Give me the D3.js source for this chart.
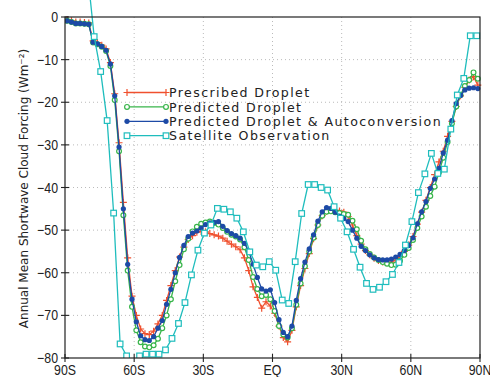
<!DOCTYPE html>
<html><head><meta charset="utf-8">
<script src="https://cdn.jsdelivr.net/npm/d3@7"></script>
<style>body{margin:0;background:#fff}svg{display:block}</style>
</head><body>
<div id="chart"></div>
<script>
// Model latitudes (96-point grid, ~1.875 deg)
const modelLat = d3.range(96).map(i => -89.0625 + 1.875 * i);
// Observation latitudes (64-point grid, 2.8125 deg)
const obsLat = d3.range(64).map(j => -88.59375 + 2.8125 * j);

const prescribed = [
 -0.6,-0.9,-1.2,-1.2,-1.3,-1.4,-5.6,-6.0,-6.6,-7.5,-10.7,-18.0,
 -29.5,-43.5,-56.5,-65.5,-70.0,-73.2,-74.3,-74.5,-73.7,-72.0,-70.0,-66.5,
 -63.0,-59.5,-56.3,-54.0,-52.2,-51.3,-50.5,-50.3,-50.4,-50.8,-51.1,-51.4,
 -51.9,-52.6,-53.3,-53.9,-54.6,-56.5,-59.5,-63.3,-65.8,-68.3,-66.8,-67.8,
 -69.5,-72.5,-75.2,-76.2,-73.5,-68.0,-63.0,-59.0,-55.5,-52.0,-48.8,-46.6,
 -45.6,-45.3,-45.3,-45.5,-45.8,-46.8,-48.8,-51.3,-53.3,-54.8,-55.8,-56.6,
 -57.1,-57.5,-57.6,-57.5,-57.0,-56.2,-55.0,-53.5,-51.5,-48.6,-45.8,-43.0,
 -40.0,-37.0,-34.0,-31.5,-28.0,-24.5,-21.0,-18.5,-16.5,-14.8,-14.0,-16.0
];
const predicted = [
 -0.9,-1.2,-1.5,-1.5,-1.6,-1.7,-6.0,-6.4,-7.0,-8.0,-11.5,-19.5,
 -31.5,-46.5,-59.5,-68.0,-73.5,-76.3,-77.3,-77.5,-77.0,-75.5,-73.0,-70.0,
 -66.2,-62.0,-58.2,-54.5,-52.0,-50.3,-49.2,-48.5,-48.2,-48.0,-48.3,-48.7,
 -49.5,-50.4,-51.1,-51.5,-52.2,-54.0,-57.0,-61.0,-63.8,-65.5,-65.2,-66.2,
 -69.0,-72.5,-74.5,-75.2,-73.0,-67.5,-62.5,-58.5,-55.0,-51.8,-48.8,-46.6,
 -45.7,-45.6,-45.8,-46.0,-46.2,-46.4,-47.8,-49.8,-52.5,-54.5,-55.6,-56.4,
 -57.0,-57.5,-57.9,-58.2,-58.1,-57.2,-55.8,-54.2,-52.3,-49.5,-46.8,-44.5,
 -42.0,-39.8,-36.5,-33.0,-29.3,-25.0,-21.0,-18.3,-16.2,-14.8,-13.0,-14.5
];
const predictedAuto = [
 -0.9,-1.2,-1.5,-1.5,-1.6,-1.7,-5.9,-6.3,-6.9,-7.8,-11.0,-18.5,
 -30.5,-45.0,-58.0,-66.2,-71.5,-74.8,-75.7,-75.9,-75.0,-73.0,-71.2,-67.4,
 -63.9,-60.0,-56.4,-53.6,-51.5,-50.7,-50.2,-49.5,-48.7,-48.3,-48.2,-48.0,
 -49.1,-50.1,-50.8,-51.3,-51.9,-53.1,-54.9,-58.0,-61.1,-63.8,-64.3,-64.0,
 -67.0,-71.0,-74.0,-75.0,-72.5,-66.5,-61.4,-57.5,-54.4,-51.1,-47.9,-45.7,
 -44.7,-44.9,-45.8,-46.7,-47.3,-48.0,-50.0,-51.9,-53.8,-54.8,-55.8,-56.5,
 -56.9,-57.0,-57.0,-56.8,-56.3,-55.7,-54.8,-53.6,-51.8,-48.5,-45.7,-43.3,
 -40.2,-38.0,-35.5,-31.9,-28.9,-24.3,-20.3,-18.4,-17.1,-16.7,-16.6,-16.8
];
const observation = [
 null,null,null,10.0,-4.6,-12.8,-24.3,-46.0,-76.7,-79.5,-81.5,-79.5,
 -79.1,-79.1,-79.1,-78.1,-75.4,-71.9,-67.0,-60.5,-54.7,-50.7,-48.8,-44.9,
 -45.1,-45.7,-47.2,-50.4,-55.1,-58.2,-58.6,-57.4,-59.4,-66.4,-67.2,-57.4,
 -46.1,-39.3,-39.3,-40.0,-40.6,-44.5,-47.2,-50.4,-54.5,-58.7,-62.5,-63.9,
 -63.4,-62.1,-60.4,-57.6,-53.5,-48.0,-41.2,-36.8,-32.0,-36.7,-35.7,-26.3,
 -18.3,-14.4,-4.4,-4.4
];

const seriesNames = ["Prescribed Droplet","Predicted Droplet","Predicted Droplet & Autoconversion","Satellite Observation"];
const xTickValues = [-90,-60,-30,0,30,60,90];
const xTickLabels = ["90S","60S","30S","EQ","30N","60N","90N"];
const yTickValues = [0,-10,-20,-30,-40,-50,-60,-70,-80];
const yTitle = "Annual Mean Shortwave Cloud Forcing (Wm\u207B\u00B2)";

const W = 490, H = 377;
const L = 65, R = 480, T = 17, B = 358;
const colors = ["#f0502e","#38b54a","#1d4aa6","#1fbdbd"];

const svg = d3.select("#chart").append("svg").attr("width", W).attr("height", H);
const x = d3.scaleLinear().domain([-90,90]).range([L,R]);
const y = d3.scaleLinear().domain([-80,0]).range([B,T]);

// grid
const grid = svg.append("g").attr("stroke","#bbb").attr("stroke-width",1).attr("stroke-dasharray","1,3");
xTickValues.slice(1,-1).forEach(v => grid.append("line").attr("x1",x(v)).attr("x2",x(v)).attr("y1",T).attr("y2",B));
yTickValues.slice(1,-1).forEach(v => grid.append("line").attr("x1",L).attr("x2",R).attr("y1",y(v)).attr("y2",y(v)));

// clip (bottom only, top open)
svg.append("clipPath").attr("id","clip").append("rect").attr("x",L).attr("y",-200).attr("width",R-L+6).attr("height",B+200);

const plot = svg.append("g").attr("clip-path","url(#clip)");
const datasets = [
  {lat: modelLat, val: prescribed},
  {lat: modelLat, val: predicted},
  {lat: modelLat, val: predictedAuto},
  {lat: obsLat, val: observation}
];
const line = d3.line().defined(d => d[1] !== null).x(d => x(d[0])).y(d => y(d[1]));

function drawMarker(g, k, cx, cy) {
  if (k === 0) {
    g.append("path").attr("d",`M${cx-3.5},${cy}H${cx+3.5}M${cx},${cy-3.5}V${cy+3.5}`).attr("stroke",colors[0]).attr("stroke-width",1.2).attr("fill","none");
  } else if (k === 1) {
    g.append("circle").attr("cx",cx).attr("cy",cy).attr("r",2.4).attr("fill","#fff").attr("stroke",colors[1]).attr("stroke-width",1.2);
  } else if (k === 2) {
    g.append("circle").attr("cx",cx).attr("cy",cy).attr("r",2.6).attr("fill",colors[2]);
  } else {
    g.append("rect").attr("x",cx-2.8).attr("y",cy-2.8).attr("width",5.6).attr("height",5.6).attr("fill","#fff").attr("stroke",colors[3]).attr("stroke-width",1.2);
  }
}

datasets.forEach((ds, k) => {
  const pts = ds.lat.map((la,i) => [la, ds.val[i]]);
  plot.append("path").datum(pts).attr("d", line).attr("fill","none").attr("stroke",colors[k]).attr("stroke-width",1.3);
  const mg = plot.append("g");
  pts.filter(p => p[1] !== null).forEach(p => drawMarker(mg, k, x(p[0]), y(p[1])));
});

// frame
svg.append("rect").attr("x",L).attr("y",T).attr("width",R-L).attr("height",B-T).attr("fill","none").attr("stroke","#222").attr("stroke-width",1.2);

// ticks
const axG = svg.append("g").attr("stroke","#222").attr("stroke-width",1.1);
xTickValues.forEach(v => axG.append("line").attr("x1",x(v)).attr("x2",x(v)).attr("y1",B-4).attr("y2",B+4));
yTickValues.forEach(v => axG.append("line").attr("x1",L-4).attr("x2",L+4).attr("y1",y(v)).attr("y2",y(v)));

const fontFam = "'Liberation Sans', Arial, sans-serif";
svg.append("g").selectAll("text").data(xTickValues).join("text")
  .attr("transform", d => `translate(${x(d)},${B + 17}) scale(0.85,1)`).attr("text-anchor","middle")
  .attr("font-family", fontFam).attr("font-size", 14.5).attr("fill","#222")
  .text((d,i) => xTickLabels[i]);
svg.append("g").selectAll("text").data(yTickValues).join("text")
  .attr("transform", d => `translate(${L - 7},${y(d) + 5}) scale(0.85,1)`).attr("text-anchor","end")
  .attr("font-family", fontFam).attr("font-size", 14.5).attr("fill","#222")
  .text(d => d === 0 ? "0" : "\u2212" + Math.abs(d));

svg.append("text").attr("transform", `translate(28,${(T+B)/2 + 1}) rotate(-90)`)
  .attr("text-anchor","middle").attr("font-family", "'DejaVu Sans', Verdana, sans-serif").attr("font-size", 12).attr("fill","#222")
  .text(yTitle);

// legend
const lg = svg.append("g");
seriesNames.forEach((name, k) => {
  const ly = 92.5 + k * 14.4;
  lg.append("line").attr("x1",127).attr("x2",166).attr("y1",ly).attr("y2",ly).attr("stroke",colors[k]).attr("stroke-width",1.3);
  drawMarker(lg, k, 127, ly); drawMarker(lg, k, 166, ly);
  lg.append("text").attr("x",169).attr("y",ly+4.6).attr("font-family","'DejaVu Sans', Verdana, sans-serif")
    .attr("font-size",12.6).attr("letter-spacing",1.4).attr("fill","#222").text(name);
});
</script>
</body></html>
